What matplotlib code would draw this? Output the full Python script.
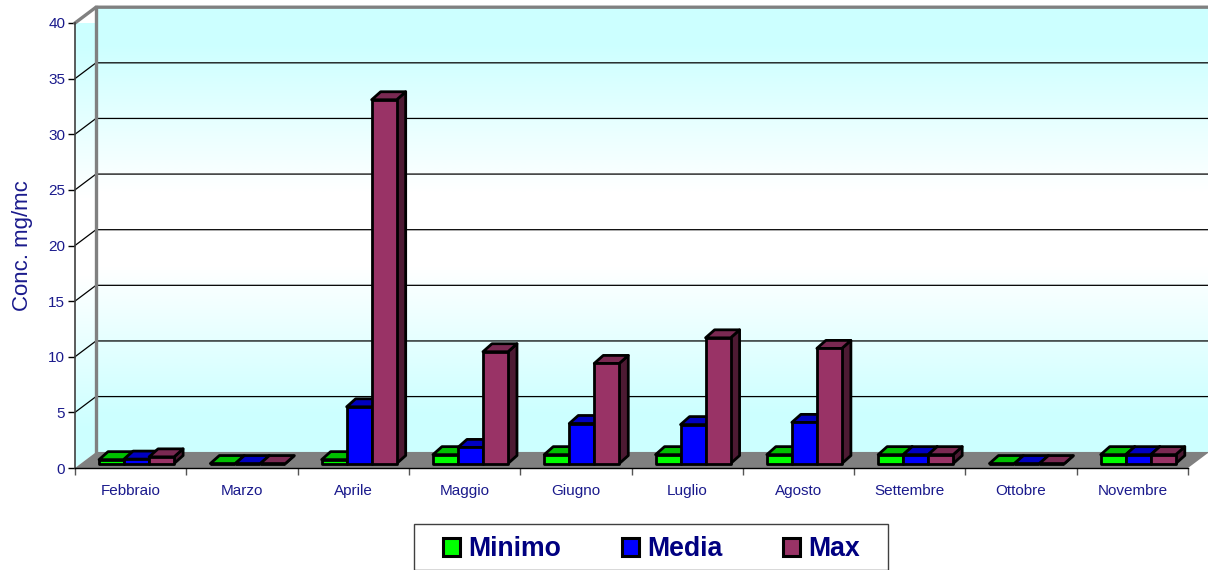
"""Monthly concentration chart (Minimo / Media / Max) drawn as Excel-style 3D bars."""
import matplotlib
matplotlib.use("Agg")
import matplotlib.pyplot as plt
import numpy as np
from matplotlib.patches import Patch, Polygon, Rectangle

plt.rcParams["font.family"] = ["Liberation Sans", "DejaVu Sans"]

MONTHS = ["Febbraio", "Marzo", "Aprile", "Maggio", "Giugno", "Luglio", "Agosto",
          "Settembre", "Ottobre", "Novembre"]
MINIMO = [0.35, 0, 0.35, 0.8, 0.8, 0.8, 0.8, 0.8, 0, 0.8]
MEDIA = [0.4, 0, 5.1, 1.45, 3.6, 3.5, 3.7, 0.8, 0, 0.8]
MASSIMO = [0.6, 0, 32.7, 10.05, 9.0, 11.3, 10.35, 0.8, 0, 0.8]
YTICKS = [0, 5, 10, 15, 20, 25, 30, 35, 40]

NAVY = "#000080"
TICK_BLUE = "#1a1a8c"
WALL_GREY = "#808080"

# name, values, front, top, side
SERIES = [
    ("Minimo", MINIMO, "#00ff00", "#00c000", "#008000"),
    ("Media", MEDIA, "#0000ff", "#0000c0", "#000080"),
    ("Max", MASSIMO, "#993366", "#7a2952", "#4d1a33"),
]

# depth of the chart box and of the bars, in data units
DX, DY = 0.1887, 1.42
BAR_DX, BAR_DY = 0.081, 0.72
BAR_START, BAR_W = 0.216, 0.2247
BAR_BASE = 0.4

fig = plt.figure(figsize=(12.08, 5.70), dpi=100, facecolor="white")
ax = fig.add_axes([75 / 1208, 1 - 468 / 570, 1113 / 1208, 445 / 570])
ax.patch.set_visible(False)

n = len(MONTHS)
top = YTICKS[-1]
grad = np.array([0.0, 0.5, 1.0, 1.0, 0.5, 0.0]).reshape(-1, 1)
cmap = matplotlib.colors.LinearSegmentedColormap.from_list("wall", ["#ccffff", "#ffffff"])

# back wall
ax.imshow(grad, cmap=cmap, aspect="auto", interpolation="bilinear", zorder=1,
          extent=[DX, n + DX, DY, top + DY], clip_on=False)
# side wall, gradient clipped to the parallelogram
side_img = ax.imshow(grad, cmap=cmap, aspect="auto", interpolation="bilinear", zorder=1,
                     extent=[0, DX, 0, top + DY])
side_poly = Polygon([(0, 0), (DX, DY), (DX, top + DY), (0, top)], closed=True,
                    transform=ax.transData, facecolor="none", edgecolor="none")
ax.add_patch(side_poly)
side_img.set_clip_path(side_poly)
# floor
ax.add_patch(Polygon([(0, 0), (DX, DY), (n + DX, DY), (n, 0)], closed=True,
                     facecolor=WALL_GREY, edgecolor="none", zorder=2, clip_on=False))

for v in YTICKS[1:-1]:
    ax.plot([0, DX, n + DX], [v, v + DY, v + DY], color="black", lw=0.9, zorder=3,
            clip_on=False)
ax.plot([0, DX, n + DX], [top, top + DY, top + DY], color=WALL_GREY, lw=2.4, zorder=3,
        clip_on=False, solid_joinstyle="miter")
ax.plot([DX, DX], [DY, top + DY], color=WALL_GREY, lw=2.4, zorder=3, clip_on=False)
ax.plot([DX, DX, n + DX], [top + DY, DY, DY], color=WALL_GREY, lw=0.8, zorder=2.5,
        clip_on=False)

z = 4
for i in range(n):
    for j, (name, vals, front, top_c, side_c) in enumerate(SERIES):
        x0 = i + BAR_START + j * BAR_W
        x1 = x0 + BAR_W
        y0 = BAR_BASE
        y1 = BAR_BASE + vals[i]
        faces = [
            ([(x1, y0), (x1 + BAR_DX, y0 + BAR_DY), (x1 + BAR_DX, y1 + BAR_DY), (x1, y1)], side_c),
            ([(x0, y1), (x1, y1), (x1 + BAR_DX, y1 + BAR_DY), (x0 + BAR_DX, y1 + BAR_DY)], top_c),
            ([(x0, y0), (x1, y0), (x1, y1), (x0, y1)], front),
        ]
        for pts, color in faces:
            ax.add_patch(Polygon(pts, closed=True, facecolor=color, edgecolor="black",
                                 lw=2.0, zorder=z, joinstyle="round", clip_on=False))
            z += 0.01

ax.set_xlim(0, n)
ax.set_ylim(0, top)
ax.set_yticks(YTICKS)
ax.tick_params(axis="y", length=5, width=1, color="black", labelsize=11,
               labelcolor=TICK_BLUE, pad=2)
ax.set_xticks(range(n + 1))
ax.set_xticklabels([])
ax.tick_params(axis="x", which="major", length=5, width=1, color="#555555")
ax.set_xticks(np.arange(n) + 0.5, minor=True)
ax.set_xticklabels(MONTHS, minor=True)
ax.tick_params(axis="x", which="minor", length=0, labelsize=11, labelcolor=TICK_BLUE, pad=11.5)

for s in ("top", "right"):
    ax.spines[s].set_visible(False)
ax.spines["left"].set_color("#404040")
ax.spines["left"].set_linewidth(1.2)
ax.spines["bottom"].set_color("black")
ax.spines["bottom"].set_linewidth(1.0)
for s in ax.spines.values():
    s.set_zorder(3.5)

ax.set_ylabel("Conc. mg/mc", fontsize=16, color=TICK_BLUE)
ax.yaxis.set_label_coords(-0.0375, 0.5)

# legend frame + legend
fig.add_artist(Rectangle((413.5 / 1208, 1 - 569.5 / 570), 474.5 / 1208, 45.5 / 570,
                         transform=fig.transFigure, facecolor="white",
                         edgecolor="#404040", lw=1.0))
handles = [Patch(facecolor=s[2], edgecolor="black", lw=2.2, label=s[0]) for s in SERIES]
leg = fig.legend(handles=handles, ncols=3, loc="center", frameon=False,
                 bbox_to_anchor=(651.5 / 1208, 1 - 549 / 570),
                 prop={"size": 19.2, "weight": "bold"}, labelcolor=NAVY,
                 handlelength=0.66, handleheight=0.66, handletextpad=0.31,
                 columnspacing=2.25, borderpad=0, borderaxespad=0)

fig.savefig("out.png", dpi=100, facecolor="white")
